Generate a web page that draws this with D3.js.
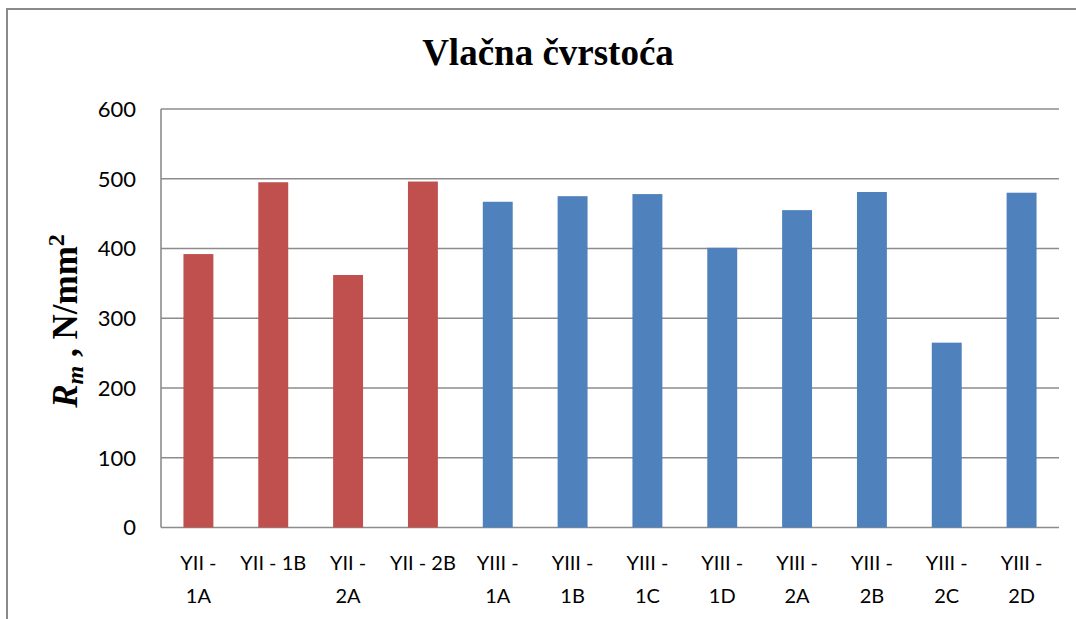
<!DOCTYPE html>
<html>
<head>
<meta charset="utf-8">
<script src="https://cdn.jsdelivr.net/npm/d3@7"></script>
<style>
  body { margin: 0; background: #fff; }
  svg { display: block; }
</style>
</head>
<body>
<div id="chart"></div>
<script>
// data
var categories = ["YII - 1A", "YII - 1B", "YII - 2A", "YII - 2B",
    "YIII - 1A", "YIII - 1B", "YIII - 1C", "YIII - 1D",
    "YIII - 2A", "YIII - 2B", "YIII - 2C", "YIII - 2D"];
var values = [392, 495, 362, 496, 467, 475, 478, 401, 455, 481, 265, 480];
// how each tick label wraps in the picture
var tickLines = [["YII -", "1A"], ["YII - 1B"], ["YII -", "2A"], ["YII - 2B"],
    ["YIII -", "1A"], ["YIII -", "1B"], ["YIII -", "1C"], ["YIII -", "1D"],
    ["YIII -", "2A"], ["YIII -", "2B"], ["YIII -", "2C"], ["YIII -", "2D"]];
var yTicks = [0, 100, 200, 300, 400, 500, 600];
var title = "Vlačna čvrstoća";

var width = 1076, height = 619;
var plot = { left: 161, right: 1059, top: 109, bottom: 527.5 };

var svg = d3.select("#chart").append("svg")
    .attr("width", width)
    .attr("height", height);

// outer chart frame (runs off the right and bottom edges)
svg.append("rect")
    .attr("x", 7).attr("y", 9)
    .attr("width", 1100).attr("height", 700)
    .attr("fill", "#fff")
    .attr("stroke", "#8a8a8a")
    .attr("stroke-width", 2);

var x = d3.scaleBand()
    .domain(categories)
    .range([plot.left, plot.right])
    .paddingInner(0.6)
    .paddingOuter(0.3);

var y = d3.scaleLinear()
    .domain([0, 600])
    .range([plot.bottom, plot.top]);

// gridlines
svg.append("g")
    .selectAll("line")
    .data(yTicks)
    .enter().append("line")
    .attr("x1", plot.left).attr("x2", plot.right)
    .attr("y1", d => y(d)).attr("y2", d => y(d))
    .attr("stroke", "#8c8c8c")
    .attr("stroke-width", 1.6);

// y axis line
svg.append("line")
    .attr("x1", plot.left).attr("x2", plot.left)
    .attr("y1", y(600)).attr("y2", y(0))
    .attr("stroke", "#8c8c8c")
    .attr("stroke-width", 1.6);

// bars
svg.append("g")
    .selectAll("rect")
    .data(values)
    .enter().append("rect")
    .attr("x", (d, i) => x(categories[i]))
    .attr("width", x.bandwidth())
    .attr("y", d => y(d))
    .attr("height", d => y(0) - y(d))
    .attr("fill", (d, i) => categories[i].indexOf("YIII") == 0 ? "#4f81bd" : "#c0504d");

// y tick labels
svg.append("g")
    .attr("font-family", "Lato, 'Open Sans', sans-serif")
    .attr("font-size", 22)
    .attr("fill", "#000")
    .selectAll("text")
    .data(yTicks)
    .enter().append("text")
    .attr("x", 136)
    .attr("y", d => y(d))
    .attr("dy", "0.36em")
    .attr("text-anchor", "end")
    .text(d => d);

// x tick labels
var xl = svg.append("g")
    .attr("font-family", "Lato, 'Open Sans', sans-serif")
    .attr("font-size", 20)
    .attr("fill", "#000")
    .selectAll("text")
    .data(categories)
    .enter().append("text")
    .attr("text-anchor", "middle")
    .attr("transform", d => "translate(" + (x(d) + x.bandwidth() / 2) + ",570)");

xl.selectAll("tspan")
    .data((d, i) => tickLines[i])
    .enter().append("tspan")
    .attr("x", 0)
    .attr("y", (d, j) => j * 33)
    .text(d => d);

// title
svg.append("text")
    .attr("x", 548)
    .attr("y", 65)
    .attr("text-anchor", "middle")
    .attr("font-family", "'Liberation Serif', 'Times New Roman', serif")
    .attr("font-weight", "bold")
    .attr("font-size", 37)
    .text(title);

// y axis title: R_m , N/mm²
var yt = svg.append("text")
    .attr("transform", "translate(77,321) rotate(-90)")
    .attr("text-anchor", "middle")
    .attr("font-family", "'Liberation Serif', 'Times New Roman', serif")
    .attr("font-weight", "bold")
    .attr("font-size", 35);
yt.append("tspan").attr("font-style", "italic").text("R");
yt.append("tspan").attr("font-style", "italic").attr("font-size", 24).attr("dy", 6).text("m");
yt.append("tspan").attr("dy", -6).text(" , N/mm");
yt.append("tspan").attr("font-size", 24).attr("dy", -13).text("2");
</script>
</body>
</html>
